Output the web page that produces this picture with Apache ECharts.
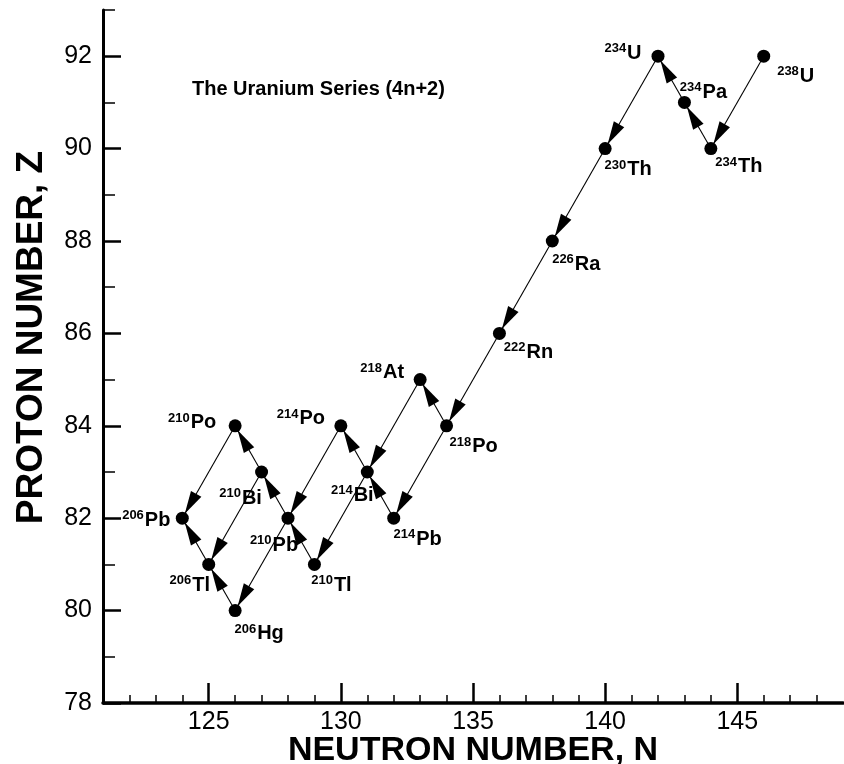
<!DOCTYPE html>
<html>
<head>
<meta charset="utf-8">
<script src="https://cdn.jsdelivr.net/npm/echarts@6/dist/echarts.min.js"></script>
<style>html,body{margin:0;padding:0;background:#fff}#c{width:844px;height:764px}</style>
</head>
<body>
<div id="c"></div>
<script>
// ---- data ----
const nuclides = ['238U','234Th','234Pa','234U','230Th','226Ra','222Rn','218Po','218At','214Pb','214Bi','214Po','210Tl','210Pb','210Bi','210Po','206Hg','206Tl','206Pb'];
const neutronN = [146,144,143,142,140,138,136,134,133,132,131,130,129,128,127,126,126,125,124];
const protonZ  = [92,90,91,92,90,88,86,84,85,82,83,84,81,82,83,84,80,81,82];
// decay steps: parent -> daughter
const decays = [
  ['238U','234Th'],['234Th','234Pa'],['234Pa','234U'],['234U','230Th'],['230Th','226Ra'],
  ['226Ra','222Rn'],['222Rn','218Po'],['218Po','214Pb'],['218Po','218At'],['218At','214Bi'],
  ['214Pb','214Bi'],['214Bi','214Po'],['214Bi','210Tl'],['214Po','210Pb'],['210Tl','210Pb'],
  ['210Pb','210Bi'],['210Pb','206Hg'],['210Bi','210Po'],['210Bi','206Tl'],['210Po','206Pb'],
  ['206Hg','206Tl'],['206Tl','206Pb']
];
const xMajorTicks = [125,130,135,140,145];
const xMinorTicks = [122,123,124,126,127,128,129,131,132,133,134,136,137,138,139,141,142,143,144,146,147,148];
const yMajorTicks = [78,80,82,84,86,88,90,92];
const yMinorTicks = [79,81,83,85,87,89,91,93];

// ---- layout (label offsets in px, relative to point) ----
const labelOffsets = {
  '238U':[32,20],'234U':[-35,-3],'234Pa':[19,-10],'234Th':[28,18],'230Th':[23,21],
  '226Ra':[24,23],'222Rn':[29,19],'218Po':[27,21],'218At':[-38,-7],'214Pb':[24,21],
  '214Bi':[-15,23],'214Po':[-40,-7],'210Tl':[17,21],'210Pb':[-14,27],'210Bi':[-21,26],
  '210Po':[-43,-3],'206Pb':[-36,2],'206Tl':[-19,21],'206Hg':[24,23]
};

const FONT = 'Liberation Sans, Arial, sans-serif';
const idx = name => nuclides.indexOf(name);

const pointData = nuclides.map((nm, i) => ({
  name: nm,
  value: [neutronN[i], protonZ[i]],
  label: { offset: labelOffsets[nm] }
}));
const decayData = decays.map(([a, b]) => {
  const i = idx(a), j = idx(b);
  return [neutronN[i], protonZ[i], neutronN[j], protonZ[j]];
});

const TIP_GAP = 5, ARROW_LEN = 23, HW = 6;
function renderDecay(params, api) {
  const p1 = api.coord([api.value(0), api.value(1)]);
  const p2 = api.coord([api.value(2), api.value(3)]);
  const dx = p2[0] - p1[0], dy = p2[1] - p1[1];
  const len = Math.hypot(dx, dy);
  const ux = dx / len, uy = dy / len;
  const tip = [p2[0] - ux * TIP_GAP, p2[1] - uy * TIP_GAP];
  const base = [tip[0] - ux * ARROW_LEN, tip[1] - uy * ARROW_LEN];
  const nx = -uy, ny = ux;
  return {
    type: 'group',
    children: [
      { type: 'line', shape: { x1: p1[0], y1: p1[1], x2: p2[0], y2: p2[1] }, style: { stroke: '#000', lineWidth: 1.1 } },
      { type: 'polygon', shape: { points: [tip, [base[0] + nx * HW, base[1] + ny * HW], [base[0] - nx * HW, base[1] - ny * HW]] }, style: { fill: '#000' } }
    ]
  };
}

const chart = echarts.init(document.getElementById('c'), null, { renderer: 'canvas' });
chart.setOption({
  animation: false,
  backgroundColor: '#fff',
  title: {
    text: 'The Uranium Series (4n+2)', left: 192, top: 79, padding: 0,
    textStyle: { fontSize: 20, fontWeight: 'bold', fontFamily: FONT, color: '#000' }
  },
  grid: { left: 103, right: 1, top: 10, bottom: 61, containLabel: false, outerBoundsMode: 'none' },
  xAxis: [
    {
      type: 'value', min: 121, max: 149, position: 'bottom',
      name: 'NEUTRON NUMBER, N', nameLocation: 'middle', nameGap: 31, nameMoveOverlap: false,
      nameTextStyle: { fontSize: 34, fontWeight: 'bold', fontFamily: FONT, color: '#000' },
      axisLine: { show: true, lineStyle: { color: '#000', width: 3.5 } },
      axisTick: { show: true, inside: true, length: 20, customValues: xMajorTicks, lineStyle: { color: '#000', width: 2.5 } },
      axisLabel: { customValues: xMajorTicks, fontSize: 25, fontFamily: FONT, color: '#000', margin: 7 },
      splitLine: { show: false }
    },
    {
      type: 'value', min: 121, max: 149, position: 'bottom',
      axisLine: { show: false },
      axisTick: { show: true, inside: true, length: 8, customValues: xMinorTicks, lineStyle: { color: '#000', width: 1.5 } },
      axisLabel: { show: false },
      splitLine: { show: false }
    }
  ],
  yAxis: [
    {
      type: 'value', min: 78, max: 93, position: 'left',
      name: 'PROTON NUMBER, Z', nameLocation: 'middle', nameGap: 53,
      nameTextStyle: { fontSize: 37, fontWeight: 'bold', fontFamily: FONT, color: '#000', padding: [0, 0, 0, 38] },
      axisLine: { show: true, lineStyle: { color: '#000', width: 3 } },
      axisTick: { show: true, inside: true, length: 18, customValues: yMajorTicks, lineStyle: { color: '#000', width: 2.5 } },
      axisLabel: { customValues: yMajorTicks, fontSize: 25, fontFamily: FONT, color: '#000', margin: 11 },
      splitLine: { show: false }
    },
    {
      type: 'value', min: 78, max: 93, position: 'left',
      axisLine: { show: false },
      axisTick: { show: true, inside: true, length: 12, customValues: yMinorTicks, lineStyle: { color: '#000', width: 1.5 } },
      axisLabel: { show: false },
      splitLine: { show: false }
    }
  ],
  series: [
    {
      type: 'custom', xAxisIndex: 0, yAxisIndex: 0,
      renderItem: renderDecay,
      encode: { x: [0, 2], y: [1, 3] },
      data: decayData, z: 2, silent: true
    },
    {
      type: 'scatter', xAxisIndex: 0, yAxisIndex: 0,
      symbol: 'circle', symbolSize: 13,
      itemStyle: { color: '#000', opacity: 1 },
      data: pointData, z: 3,
      label: {
        show: true, position: 'inside', textBorderWidth: 0,
        formatter: p => {
          const m = p.name.match(/^(\d+)(\D+)$/);
          return '{sup|' + m[1] + '}{el|' + m[2] + '}';
        },
        rich: {
          sup: { fontSize: 13, fontWeight: 'bold', fontFamily: FONT, color: '#000', padding: [0, 1, 9, 0] },
          el: { fontSize: 20, fontWeight: 'bold', fontFamily: FONT, color: '#000' }
        }
      }
    }
  ]
});
</script>
</body>
</html>
